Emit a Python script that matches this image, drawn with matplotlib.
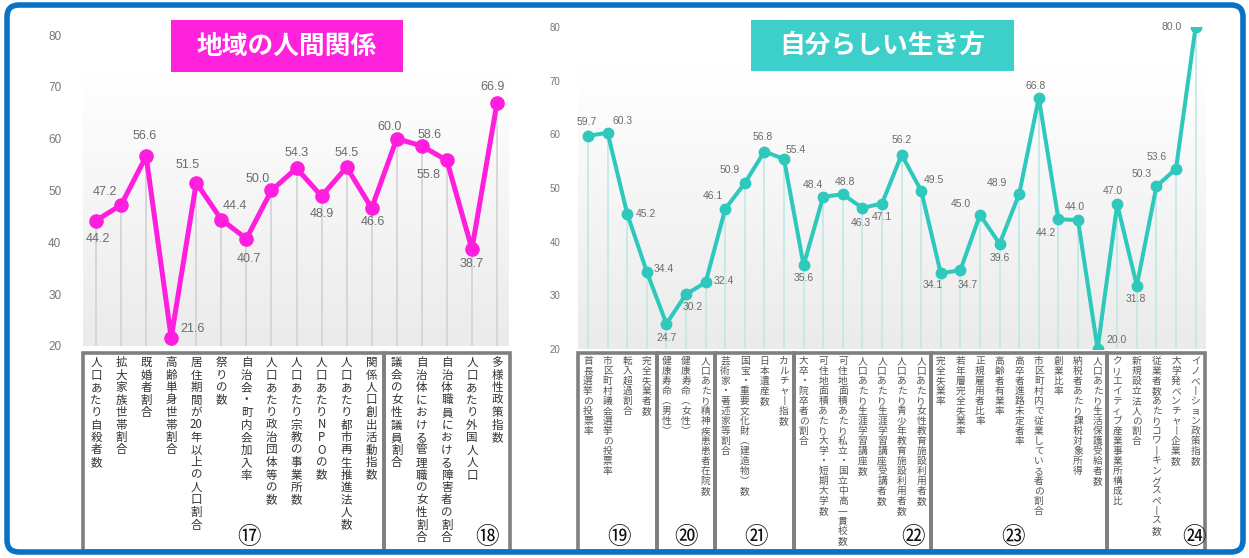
import numpy as np
import matplotlib
matplotlib.use("Agg")
import matplotlib.pyplot as plt
import matplotlib.transforms as mtransforms
from matplotlib.patches import Rectangle, FancyBboxPatch
from matplotlib.colors import LinearSegmentedColormap

plt.rcParams['font.family'] = ['Noto Sans CJK JP', 'DejaVu Sans']

# ---- データ（左：地域の人間関係） ----
left_title = "地域の人間関係"
left_labels = [
    "人口あたり自殺者数", "拡大家族世帯割合", "既婚者割合", "高齢単身世帯割合",
    "居住期間が20年以上の人口割合", "祭りの数", "自治会・町内会加入率",
    "人口あたり政治団体等の数", "人口あたり宗教の事業所数", "人口あたりNPOの数",
    "人口あたり都市再生推進法人数", "関係人口創出活動指数",
    "議会の女性議員割合", "自治体における管理職の女性割合",
    "自治体職員における障害者の割合", "人口あたり外国人人口", "多様性政策指数",
]
left_values = [44.2, 47.2, 56.6, 21.6, 51.5, 44.4, 40.7, 50.0, 54.3, 48.9,
               54.5, 46.6, 60.0, 58.6, 55.8, 38.7, 66.9]
left_group_names = ["⑰", "⑱"]
left_group_sizes = [12, 5]

# ---- データ（右：自分らしい生き方） ----
right_title = "自分らしい生き方"
right_labels = [
    "首長選挙の投票率", "市区町村議会選挙の投票率", "転入超過割合", "完全失業者数",
    "健康寿命（男性）", "健康寿命（女性）", "人口あたり精神疾患患者在院数",
    "芸術家・著述家等割合", "国宝・重要文化財（建造物）数", "日本遺産数", "カルチャー指数",
    "大卒・院卒者の割合", "可住地面積あたり大学・短期大学数",
    "可住地面積あたり私立・国立中高一貫校数", "人口あたり生涯学習講座数",
    "人口あたり生涯学習講座受講者数", "人口あたり青少年教育施設利用者数",
    "人口あたり女性教育施設利用者数",
    "完全失業率", "若年層完全失業率", "正規雇用者比率", "高齢者有業率",
    "高卒者進路未定者率", "市区町村内で従業している者の割合", "創業比率",
    "納税者あたり課税対象所得", "人口あたり生活保護受給者数",
    "クリエイティブ産業事業所構成比", "新規設立法人の割合",
    "従業者数あたりコワーキングスペース数", "大学発ベンチャー企業数",
    "イノベーション政策指数",
]
right_values = [59.7, 60.3, 45.2, 34.4, 24.7, 30.2, 32.4, 46.1, 50.9, 56.8,
                55.4, 35.6, 48.4, 48.8, 46.3, 47.1, 56.2, 49.5, 34.1, 34.7,
                45.0, 39.6, 48.9, 66.8, 44.2, 44.0, 20.0, 47.0, 31.8, 50.3,
                53.6, 80.0]
right_group_names = ["⑲", "⑳", "㉑", "㉒", "㉓", "㉔"]
right_group_sizes = [4, 3, 4, 7, 9, 5]

yticks = [20, 30, 40, 50, 60, 70, 80]

# ---- 値ラベルの位置（ピクセルオフセット） ----
left_offsets = [(2, -18), (-16, 13), (-2, 20), (21, 9), (-9, 18), (14, 14),
                (2, -20), (-14, 12), (0, 15), (0, -18), (0, 14), (1, -14),
                (-7, 12), (8, 11), (-18, -15), (0, -15), (-4, 16)]
right_offsets = [(-1, 14), (15, 12), (19, 0), (17, 3), (0, -14), (7, -13),
                 (18, 1), (-12, 13), (-15, 13), (-2, 15), (12, 9), (0, -13),
                 (-10, 12), (2, 12), (-2, -15), (0, -13), (0, 15), (13, 11),
                 (-8, -12), (7, -15), (-19, 11), (0, -14), (-22, 11), (-3, 12),
                 (-13, -14), (-3, 13), (19, 9), (-4, 13), (-1, -13), (-15, 12),
                 (-19, 12), (-24, 0)]
left_num_x = [6.1, 15.6]
right_num_x = [1.6, 5.0, 8.6, 16.6, 21.7, 30.9]

W, H = 1249, 558
fig = plt.figure(figsize=(W / 100, H / 100), dpi=100)
fig.patch.set_facecolor("white")

# 装飾用のオーバーレイ（ピクセル座標）
ov = fig.add_axes([0, 0, 1, 1], zorder=10)
ov.set_xlim(0, W)
ov.set_ylim(H, 0)
ov.axis("off")
ov.patch.set_alpha(0)


def px_axes(x0, x1, y_top, y_bot):
    return fig.add_axes([x0 / W, (H - y_bot) / H, (x1 - x0) / W, (y_bot - y_top) / H])


def vertical(s):
    rep = {"（": "︵", "）": "︶", "ー": "丨"}
    out, buf = [], ""
    for ch in s:
        if ch.isdigit() and ch.isascii():
            buf += ch
            continue
        if buf:
            out.append(buf)
            buf = ""
        out.append(rep.get(ch, ch))
    if buf:
        out.append(buf)
    return "\n".join(out)


def draw_chart(ax, labels, values, names, sizes, num_x, offsets, color, drop_color,
               grad_top, val_fs, tick_fs, lab_fs, lab_color, ms, lw, tick_pad, lab_ls):
    n = len(values)
    x = np.arange(n)
    cmap = LinearSegmentedColormap.from_list("g", ["#ffffff", "#ebebeb"])
    ax.imshow(np.linspace(0, 1, 100).reshape(-1, 1), cmap=cmap, aspect="auto",
              extent=(-0.5, n - 0.5, 20, grad_top), origin="upper", zorder=0)
    ax.vlines(x, 20, values, color=drop_color, lw=1.2, zorder=1)
    ax.plot(x, values, color=color, lw=lw, marker="o", ms=ms, zorder=3,
            solid_joinstyle="round")
    for xi, v, (dx, dy) in zip(x, values, offsets):
        ax.annotate(f"{v:.1f}", (xi, v), xytext=(dx, dy), textcoords="offset pixels",
                    ha="center", va="center", fontsize=val_fs, color="#6b6b6b",
                    family=["Liberation Sans", "DejaVu Sans"], zorder=4)
    ax.set_xlim(-0.5, n - 0.5)
    ax.set_ylim(20, 80)
    ax.set_yticks(yticks)
    ax.set_xticks([])
    ax.tick_params(axis="y", length=0, pad=tick_pad, labelsize=tick_fs, labelcolor="#777777")
    for lab in ax.get_yticklabels():
        lab.set_family(["Liberation Sans", "DejaVu Sans"])
    for sp in ax.spines.values():
        sp.set_visible(False)
    ax.patch.set_alpha(0)

    # 下部の項目ラベルとグループ枠
    tr = mtransforms.blended_transform_factory(ax.transData, ov.transData)
    for xi, lab in zip(x, labels):
        ax.text(xi, 356, vertical(lab), transform=tr, ha="center", va="top",
                fontsize=lab_fs, color=lab_color, linespacing=lab_ls, clip_on=False)
    start = 0
    for name, size, nx in zip(names, sizes, num_x):
        ax.add_patch(Rectangle((start - 0.5, 353), size, 198, transform=tr,
                               fill=False, ec="#7f7f7f", lw=2.6, clip_on=False))
        ax.text(nx, 537, name, transform=tr, ha="center", va="center",
                fontsize=17, color="#111111", clip_on=False)
        start += size


axL = px_axes(83.5, 509.5, 35, 346)
draw_chart(axL, left_labels, left_values, left_group_names, left_group_sizes,
           left_num_x, left_offsets, "#ff1ede", "#d2d2d2", 73.3,
           9, 8.5, 8.3, "#333333", 9.5, 3.6, 16, 0.95)

axR = px_axes(578.2, 1205.4, 27, 349)
draw_chart(axR, right_labels, right_values, right_group_names, right_group_sizes,
           right_num_x, right_offsets, "#2ec8bd", "#bfe9e5", 72.9,
           7.5, 7, 7, "#555555", 7.5, 2.9, 13, 1.0)

# タイトル
ov.add_patch(Rectangle((171, 20), 232, 52, fc="#ff22dd", ec="none"))
ov.text(287, 46, left_title, ha="center", va="center", fontsize=18.5,
        fontweight="bold", color="white")
ov.add_patch(Rectangle((751, 20), 263, 51, fc="#3dd0ca", ec="none"))
ov.text(882, 45.5, right_title, ha="center", va="center", fontsize=18.5,
        fontweight="bold", color="white")

# 外枠
ov.add_patch(FancyBboxPatch((7, 5), 1236, 547, boxstyle="round,pad=0,rounding_size=12",
                            fill=False, ec="#0a72c4", lw=4))

fig.savefig("out.png", dpi=100, facecolor="white")
